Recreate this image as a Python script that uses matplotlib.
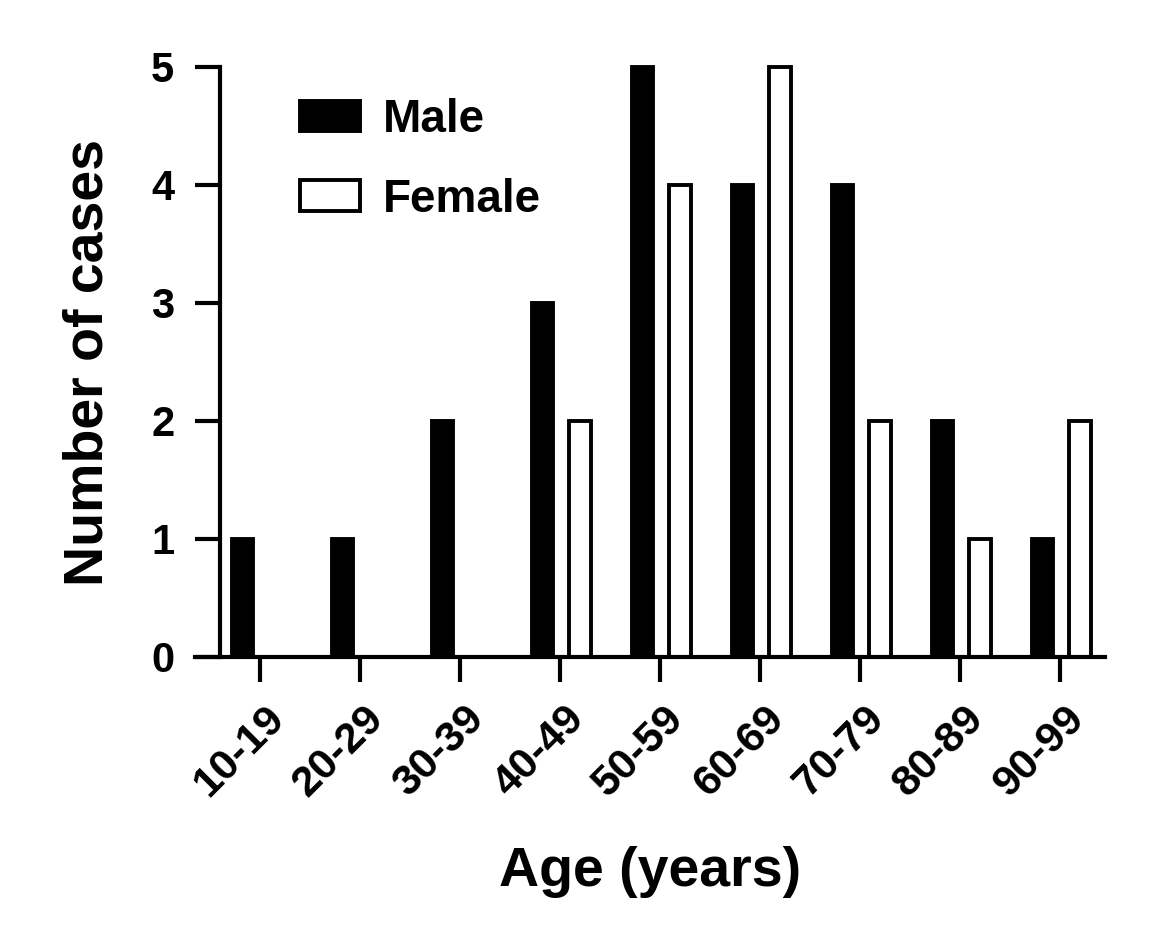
import matplotlib
matplotlib.use("Agg")
import matplotlib.pyplot as plt
import matplotlib.transforms as mtransforms
import numpy as np

# data
age_groups = ["10-19", "20-29", "30-39", "40-49", "50-59",
              "60-69", "70-79", "80-89", "90-99"]
male = [1, 1, 2, 3, 5, 4, 4, 2, 1]
female = [0, 0, 0, 2, 4, 5, 2, 1, 2]

plt.rcParams["font.family"] = ["Liberation Sans", "DejaVu Sans"]
plt.rcParams["font.weight"] = "bold"

fig = plt.figure(figsize=(11.6, 9.4), dpi=100)
ax = fig.add_axes([195 / 1160, 1 - 657 / 940, 910 / 1160, 590 / 940])

x = np.arange(len(age_groups))
w = 0.215
lw = 2.8
ax.bar(x - 0.175, male, width=w, color="black", edgecolor="black",
       linewidth=lw, label="Male", clip_on=False)
ax.bar(x + 0.2, female, width=w, color="white", edgecolor="black",
       linewidth=lw, label="Female", clip_on=False)

ax.set_xlim(-0.65, 8.45)
ax.set_ylim(0, 5)
ax.spines["top"].set_visible(False)
ax.spines["right"].set_visible(False)
ax.spines["left"].set_position(("data", -0.4))
for s in ("left", "bottom"):
    ax.spines[s].set_linewidth(3)
    ax.spines[s].set_capstyle("projecting")

ax.set_yticks(range(6))
ax.set_xticks(x)
ax.set_xticklabels(age_groups, rotation=45, ha="right", va="center",
                   rotation_mode="anchor")
ax.tick_params(axis="both", length=18, width=3, direction="out")
ax.tick_params(axis="y", labelsize=30, pad=15)
ax.tick_params(axis="x", labelsize=31, pad=22)
offset = mtransforms.ScaledTranslation(18 / 100, 0, fig.dpi_scale_trans)
for lab in ax.get_xticklabels():
    lab.set_transform(lab.get_transform() + offset)

ax.set_ylabel("Number of cases", fontsize=40, fontweight="bold", labelpad=26)
ax.set_xlabel("Age (years)", fontsize=40, fontweight="bold", labelpad=30)

ax.legend(loc="upper left", bbox_to_anchor=(300 / 1160, 1 - 98 / 940),
          bbox_transform=fig.transFigure, frameon=False, fontsize=33,
          handlelength=1.3, handleheight=0.65, handletextpad=0.5,
          labelspacing=0.78, borderpad=0, borderaxespad=0)

fig.savefig("out.png", dpi=100)
